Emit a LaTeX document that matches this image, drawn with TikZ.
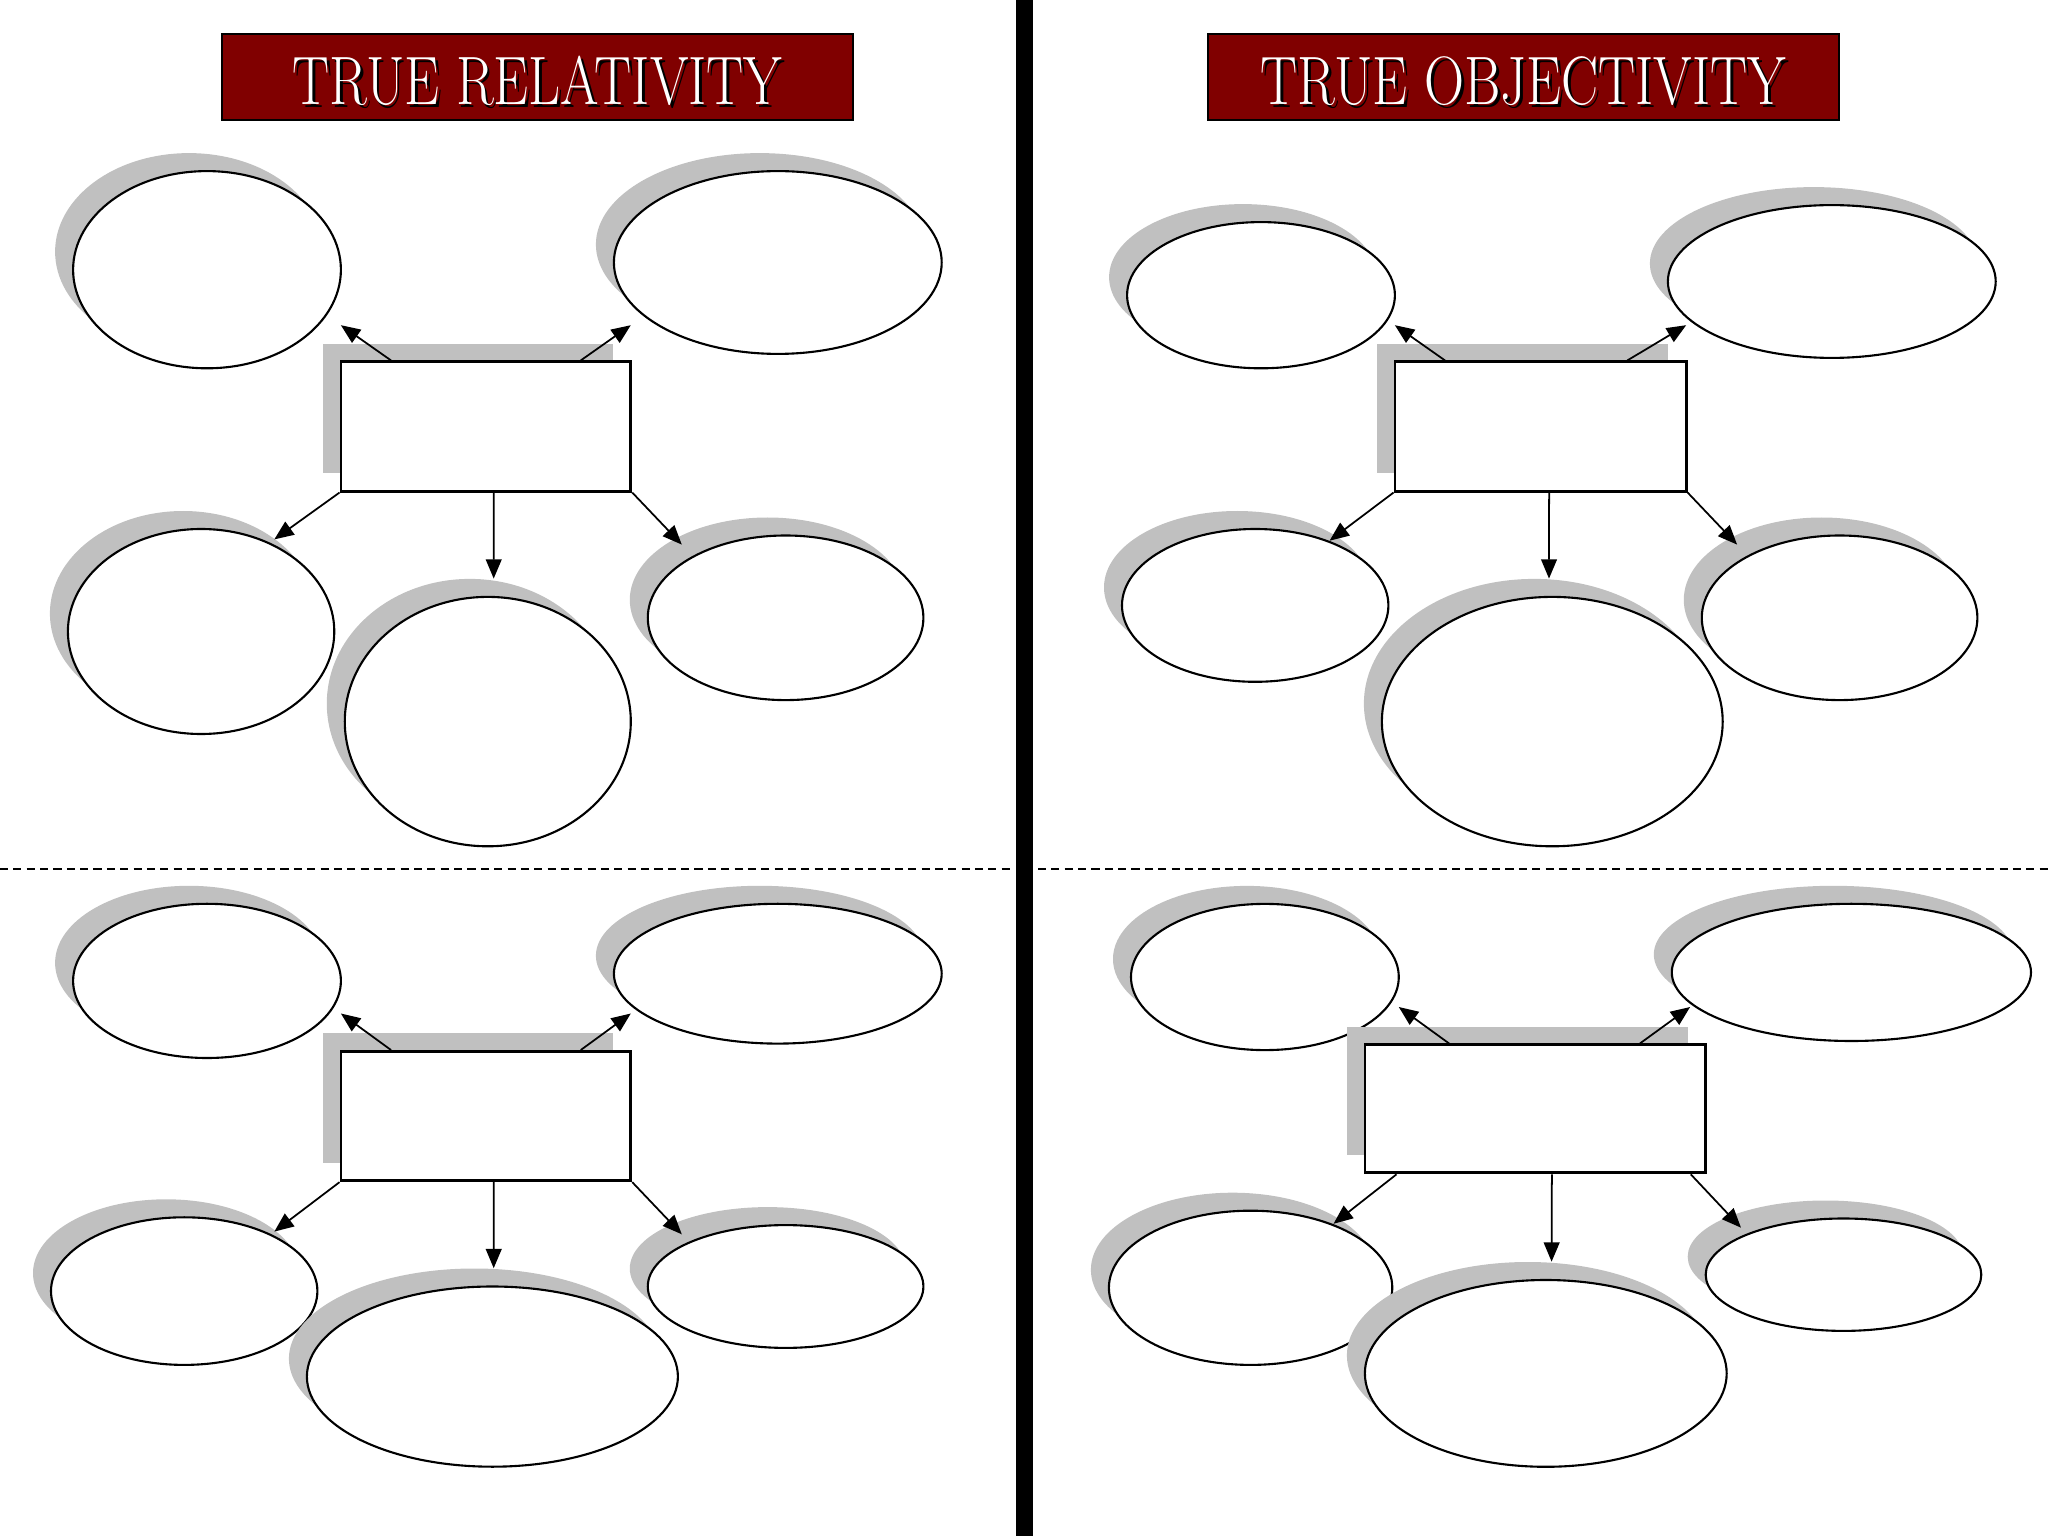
\documentclass[tikz,border=0pt]{standalone}
\usepackage{graphicx}
\usetikzlibrary{shapes.geometric, shadows, arrows.meta, calc}

\definecolor{titlered}{RGB}{128,0,0}
\definecolor{shadowgray}{RGB}{192,192,192}

\tikzset{
  greyshadow/.style={general shadow={fill=shadowgray, shadow xshift=-0.18cm, shadow yshift=0.18cm}},
  bubble/.style={ellipse, draw, line width=0.6pt, fill=white, inner sep=0pt, greyshadow},
  centrebox/.style={rectangle, draw, line width=0.8pt, fill=white, inner sep=0pt, greyshadow},
  titlebox/.style={rectangle, draw, line width=0.8pt, fill=titlered, minimum width=6.31cm, minimum height=0.86cm},
  titletext/.style={font=\fontsize{19.5}{20}\selectfont, inner sep=0pt},
  link/.style={-{Triangle[length=5.5pt,width=4.5pt]}, line width=0.5pt}
}

\begin{document}
\begin{tikzpicture}[x=1cm, y=-1cm]

    \useasboundingbox (0,0) rectangle (20.48,15.36);

    % the middle bar and the dashed cut lines
    \fill[black] (10.16,0) rectangle (10.33,15.36);
    \draw[dash pattern=on 2.3pt off 1.5pt, line width=0.5pt] (0,8.69) -- (10.15,8.69);
    \draw[dash pattern=on 2.3pt off 1.5pt, line width=0.5pt] (10.38,8.69) -- (20.48,8.69);

    % the titles
    \node[titlebox] (rel-title) at (5.375,0.77) {};
    \node[titletext, text=black] at ([xshift=0.8pt, yshift=-0.04cm-0.8pt]rel-title.center) {\scalebox{0.81}[1]{TRUE RELATIVITY}};
    \node[titletext, text=white] at ([yshift=-0.04cm]rel-title.center) {\scalebox{0.81}[1]{TRUE RELATIVITY}};

    \node[titlebox] (obj-title) at (15.235,0.77) {};
    \node[titletext, text=black] at ([xshift=0.8pt, yshift=-0.04cm-0.8pt]obj-title.center) {\scalebox{0.81}[1]{TRUE OBJECTIVITY}};
    \node[titletext, text=white] at ([yshift=-0.04cm]obj-title.center) {\scalebox{0.81}[1]{TRUE OBJECTIVITY}};

    % top left map
    \node[bubble, minimum width=2.678cm, minimum height=1.972cm] (a-nw) at (2.070,2.697) {};
    \node[bubble, minimum width=3.278cm, minimum height=1.828cm] (a-ne) at (7.778,2.625) {};
    \node[centrebox, minimum width=2.899cm, minimum height=1.293cm] (a-box) at (4.859,4.265) {};
    \node[bubble, minimum width=2.664cm, minimum height=2.050cm] (a-sw) at (2.011,6.315) {};
    \node[bubble, minimum width=2.860cm, minimum height=2.494cm] (a-s) at (4.878,7.216) {};
    \node[bubble, minimum width=2.756cm, minimum height=1.646cm] (a-se) at (7.856,6.178) {};

    \coordinate (a-t1) at (3.409,3.252);
    \coordinate (a-t2) at (6.308,3.252);
    \coordinate (a-t3) at (2.743,5.394);
    \coordinate (a-t4) at (4.937,5.786);
    \coordinate (a-t5) at (6.818,5.446);

    \draw[link] ($(a-box.north west)!.176!(a-box.north east)$) -- (a-t1);
    \draw[link] ($(a-box.north west)!.824!(a-box.north east)$) -- (a-t2);
    \draw[link] (a-box.south west) -- (a-t3);
    \draw[link] ($(a-box.south west)!.527!(a-box.south east)$) -- (a-t4);
    \draw[link] (a-box.south east) -- (a-t5);

    % top right map
    \node[bubble, minimum width=2.678cm, minimum height=1.462cm] (b-nw) at (12.610,2.952) {};
    \node[bubble, minimum width=3.278cm, minimum height=1.528cm] (b-ne) at (18.318,2.815) {};
    \node[centrebox, minimum width=2.913cm, minimum height=1.293cm] (b-box) at (15.406,4.265) {};
    \node[bubble, minimum width=2.664cm, minimum height=1.528cm] (b-sw) at (12.552,6.054) {};
    \node[bubble, minimum width=3.408cm, minimum height=2.494cm] (b-s) at (15.523,7.216) {};
    \node[bubble, minimum width=2.756cm, minimum height=1.646cm] (b-se) at (18.396,6.178) {};

    \coordinate (b-t1) at (13.949,3.252);
    \coordinate (b-t2) at (16.862,3.252);
    \coordinate (b-t3) at (13.296,5.407);
    \coordinate (b-t4) at (15.490,5.786);
    \coordinate (b-t5) at (17.371,5.446);

    \draw[link] ($(b-box.north west)!.175!(b-box.north east)$) -- (b-t1);
    \draw[link] ($(b-box.north west)!.795!(b-box.north east)$) -- (b-t2);
    \draw[link] (b-box.south west) -- (b-t3);
    \draw[link] ($(b-box.south west)!.529!(b-box.south east)$) -- (b-t4);
    \draw[link] (b-box.south east) -- (b-t5);

    % bottom left map
    \node[bubble, minimum width=2.678cm, minimum height=1.542cm] (c-nw) at (2.070,9.809) {};
    \node[bubble, minimum width=3.278cm, minimum height=1.398cm] (c-ne) at (7.778,9.737) {};
    \node[centrebox, minimum width=2.899cm, minimum height=1.293cm] (c-box) at (4.859,11.161) {};
    \node[bubble, minimum width=2.664cm, minimum height=1.476cm] (c-sw) at (1.842,12.911) {};
    \node[bubble, minimum width=3.710cm, minimum height=1.802cm] (c-s) at (4.924,13.766) {};
    \node[bubble, minimum width=2.756cm, minimum height=1.228cm] (c-se) at (7.856,12.865) {};

    \coordinate (c-t1) at (3.409,10.135);
    \coordinate (c-t2) at (6.308,10.135);
    \coordinate (c-t3) at (2.743,12.316);
    \coordinate (c-t4) at (4.937,12.682);
    \coordinate (c-t5) at (6.818,12.343);

    \draw[link] ($(c-box.north west)!.176!(c-box.north east)$) -- (c-t1);
    \draw[link] ($(c-box.north west)!.824!(c-box.north east)$) -- (c-t2);
    \draw[link] (c-box.south west) -- (c-t3);
    \draw[link] ($(c-box.south west)!.527!(c-box.south east)$) -- (c-t4);
    \draw[link] (c-box.south east) -- (c-t5);

    % bottom right map
    \node[bubble, minimum width=2.678cm, minimum height=1.462cm] (d-nw) at (12.649,9.770) {};
    \node[bubble, minimum width=3.592cm, minimum height=1.372cm] (d-ne) at (18.514,9.724) {};
    \node[centrebox, minimum width=3.409cm, minimum height=1.280cm] (d-box) at (15.354,11.089) {};
    \node[bubble, minimum width=2.834cm, minimum height=1.542cm] (d-sw) at (12.506,12.878) {};
    \node[bubble, minimum width=3.618cm, minimum height=1.868cm] (d-s) at (15.458,13.734) {};
    \node[bubble, minimum width=2.756cm, minimum height=1.124cm] (d-se) at (18.435,12.747) {};

    \coordinate (d-t1) at (13.988,10.070);
    \coordinate (d-t2) at (16.901,10.070);
    \coordinate (d-t3) at (13.335,12.238);
    \coordinate (d-t4) at (15.516,12.617);
    \coordinate (d-t5) at (17.410,12.277);

    \draw[link] ($(d-box.north west)!.249!(d-box.north east)$) -- (d-t1);
    \draw[link] ($(d-box.north west)!.804!(d-box.north east)$) -- (d-t2);
    \draw[link] ($(d-box.south west)!.096!(d-box.south east)$) -- (d-t3);
    \draw[link] ($(d-box.south west)!.548!(d-box.south east)$) -- (d-t4);
    \draw[link] ($(d-box.south west)!.952!(d-box.south east)$) -- (d-t5);

\end{tikzpicture}
\end{document}
